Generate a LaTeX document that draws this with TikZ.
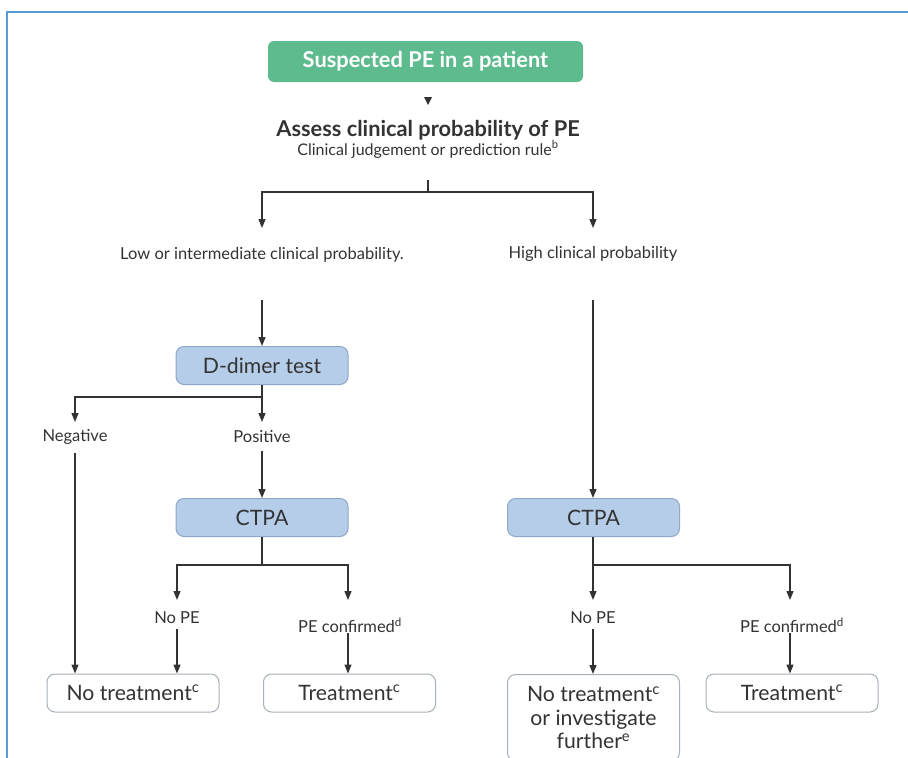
\documentclass[tikz,border=0pt]{standalone}
\usepackage{fontspec}
\setmainfont{Lato}
\usetikzlibrary{arrows.meta}
\definecolor{frameblue}{HTML}{5B9BD5}
\definecolor{boxgreen}{HTML}{5DBB8E}
\definecolor{boxblue}{HTML}{B5CDE9}
\definecolor{boxblueedge}{HTML}{8FA8C8}
\definecolor{ink}{HTML}{333333}
\definecolor{outedge}{HTML}{A7B0B8}
\tikzset{
  greenbox/.style={rounded corners=6pt, fill=boxgreen, text=white,
    font=\fontsize{21.8}{24}\selectfont\bfseries, minimum width=315pt,
    minimum height=41pt, inner sep=0pt},
  bluebox/.style={rounded corners=8pt, fill=boxblue, draw=boxblueedge,
    line width=1pt, text=ink, font=\fontsize{21.2}{24}\selectfont,
    minimum width=172pt, minimum height=38pt, inner sep=0pt},
  outbox/.style={rounded corners=8pt, fill=white, draw=outedge,
    line width=1pt, text=ink, font=\fontsize{21.2}{24}\selectfont,
    minimum width=172pt, minimum height=38pt, inner sep=0pt},
  lbl/.style={text=ink, font=\fontsize{16.5}{19}\selectfont, inner sep=1pt},
  ln/.style={draw=ink, line width=1.3pt},
  arr/.style={ln, -{Triangle[width=7pt,length=9pt]}}
}
\begin{document}
\begin{tikzpicture}[x=1pt,y=-1pt]
\useasboundingbox (0,0) rectangle (908,758);
\clip (0,0) rectangle (908,758);
\fill[white] (0,0) rectangle (908,758);
\draw[frameblue, line width=2pt] (7,770) -- (7,12) -- (915,12);

% top
\node[greenbox] (green) at (425.5,61.5) {Suspected PE in a patient};
\fill[ink] (424,97) -- (432,97) -- (428,105) -- cycle;
\node[font=\fontsize{21.8}{24}\selectfont\bfseries, text=ink, inner sep=0pt, anchor=base] (assess) at (428,136) {Assess clinical probability of PE};
\node[font=\fontsize{16}{19}\selectfont, text=ink, inner sep=0pt, anchor=base] (judge) at (428,155) {Clinical judgement or prediction rule\textsuperscript{b}};

\coordinate (j0) at (428,180);
\coordinate (j1) at (428,192);
\coordinate (lowtip) at (262,228);
\coordinate (hightip) at (593,228);
\draw[ln] (j0) -- (j1);
\draw[arr] (j1) -| (lowtip);
\draw[arr] (j1) -| (hightip);

\node[lbl] (low) at (262,255) {Low or intermediate clinical probability.};
\node[lbl] (high) at (593,254) {High clinical probability};

% left branch
\coordinate (lowstart) at (262,300);
\node[bluebox] (dd) at (262,365.5) {D-dimer test};
\draw[arr] (lowstart) -- (lowstart |- dd.north);

\coordinate (ddj) at (262,397);
\coordinate (negtip) at (75,422);
\coordinate (postip) at (262,422);
\draw[ln] (dd.south) -- (ddj);
\draw[arr] (ddj) -| (negtip);
\draw[arr] (ddj) -- (postip);
\node[lbl] (neg) at (75,437) {Negative};
\node[lbl] (pos) at (262,437) {Positive};

\node[bluebox] (ctpaL) at (262,517.5) {CTPA};
\draw[arr, shorten <=7pt] (pos.south) -- (ctpaL.north);

\coordinate (cLj) at (262,565);
\coordinate (cLa) at (177,600);
\coordinate (cLb) at (348,600);
\draw[ln] (ctpaL.south) -- (cLj);
\draw[arr] (cLj) -| (cLa);
\draw[arr] (cLj) -| (cLb);
\node[lbl] (nopeL) at (177,618) {No PE};
\node[lbl] (pecL) at (350,625) {PE confirmed\textsuperscript{d}};

\node[outbox] (ntL) at (133,693) {No treatment\textsuperscript{c}};
\node[outbox] (tL) at (349.5,693) {Treatment\textsuperscript{c}};
\draw[arr, shorten <=7pt] (neg.south) -- (neg.south |- ntL.north);
\draw[arr, shorten <=4pt] (nopeL.south) -- (nopeL.south |- ntL.north);
\draw[arr, shorten <=-1pt] (cLb |- pecL.south) -- (cLb |- tL.north);

% right branch
\coordinate (highstart) at (593,300);
\node[bluebox] (ctpaR) at (593.5,517.5) {CTPA};
\draw[arr] (highstart) -- (highstart |- ctpaR.north);

\coordinate (cRj) at (593,565);
\coordinate (cRa) at (593,600);
\coordinate (cRb) at (790,600);
\draw[arr] (cRj |- ctpaR.south) -- (cRa);
\draw[arr] (cRj) -| (cRb);
\node[lbl] (nopeR) at (593,618) {No PE};
\node[lbl] (pecR) at (792,625) {PE confirmed\textsuperscript{d}};

\node[outbox, anchor=north, align=center, inner ysep=12pt,
  font=\fontsize{21.2}{23.5}\selectfont] (ntR) at (593.5,674)
  {No treatment\textsuperscript{c}\\ or investigate\\ further\textsuperscript{e}};
\node[outbox] (tR) at (792,693) {Treatment\textsuperscript{c}};
\draw[arr, shorten <=4pt] (nopeR.south) -- (nopeR.south |- ntR.north);
\draw[arr, shorten <=-1pt] (cRb |- pecR.south) -- (cRb |- tR.north);
\end{tikzpicture}
\end{document}
